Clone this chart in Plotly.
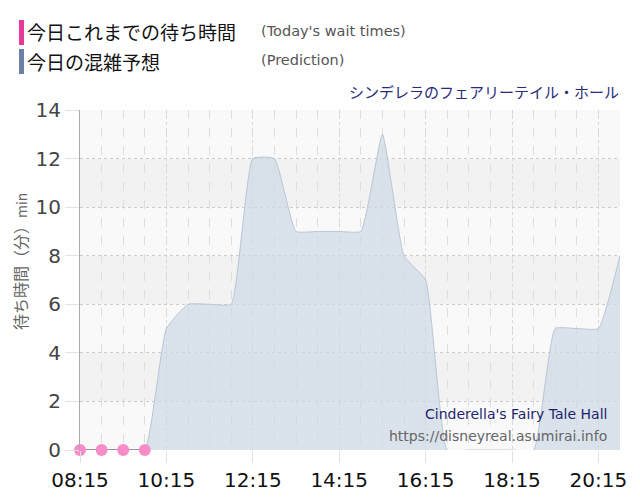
import plotly.graph_objects as go

# data (30 min steps)
day = "2024-01-01 "
pred_times = ["08:15", "08:45", "09:15", "09:45", "10:15", "10:45", "11:15", "11:45",
              "12:15", "12:45", "13:15", "13:45", "14:15", "14:45", "15:15", "15:45",
              "16:15", "16:45", "17:15", "17:45", "18:15", "18:45", "19:15", "19:45",
              "20:15", "20:45"]
pred_values = [0, 0, 0, 0, 5, 6, 6, 6, 12, 12, 9, 9, 9, 9, 13, 8, 7, 0, 0, 0, 0, 0,
               5, 5, 5, 8]
wait_times = ["08:15", "08:45", "09:15", "09:45"]
wait_values = [0, 0, 0, 0]
tick_labels = ["08:15", "10:15", "12:15", "14:15", "16:15", "18:15", "20:15"]
y_ticks = [0, 2, 4, 6, 8, 10, 12, 14]

jp = "Noto Sans CJK JP"
latin = "DejaVu Sans"

# the page body adds an 8px margin, so the figure is drawn 8px smaller
OFF = 8
W, H = 640 - OFF, 500 - OFF
# plot area in (reference) pixels
L, R, T, B = 80, 620, 110, 450


def px(x):
    return (x - L) / (R - L)


def py(y):
    return (B - y) / (B - T)


fig = go.Figure()

# prediction area
fig.add_trace(go.Scatter(
    x=[day + t for t in pred_times], y=pred_values,
    mode="lines", line=dict(color="#b8c6d4", width=1, shape="spline", smoothing=0.4),
    fill="tozeroy", fillcolor="rgba(205,218,230,0.7)", hoverinfo="skip"
))

# today's wait times
fig.add_trace(go.Scatter(
    x=[day + t for t in wait_times], y=wait_values,
    mode="lines+markers", line=dict(color="#a0909c", width=2),
    marker=dict(color="#f78dc8", size=12), cliponaxis=False, hoverinfo="skip"
))

# alternating background bands
for k in range(7):
    fig.add_shape(type="rect", xref="paper", yref="y", x0=0, x1=1,
                  y0=y_ticks[k], y1=y_ticks[k + 1], layer="below", line_width=0,
                  fillcolor="#f2f2f2" if k % 2 else "#f9f9f9")

fig.update_xaxes(
    type="date",
    range=[day + "08:15", day + "20:45"],
    tickvals=[day + t for t in tick_labels], ticktext=tick_labels,
    tickfont=dict(family=latin, size=20, color="#111"),
    showgrid=True, gridcolor="#d8d8d8", griddash="dot", gridwidth=1,
    minor=dict(dtick=30 * 60 * 1000, tick0=day + "08:15", showgrid=True,
               gridcolor="#dedede", griddash="dash", gridwidth=1),
    showline=False, zeroline=False,
    ticks="outside", ticklen=12, tickcolor="#e2e2e2",
    automargin=False,
)
fig.update_yaxes(
    range=[0, 14], tickvals=y_ticks,
    tickfont=dict(family=latin, size=20, color="#444"),
    showgrid=True, gridcolor="#cccccc", griddash="dot",
    showline=True, linecolor="#aaaaaa", linewidth=1,
    ticks="outside", ticklen=14, tickcolor="#e2e2e2",
    zeroline=False, automargin=False,
)

annotations = [
    dict(x=25, y=32, text="今日これまでの待ち時間", family=jp, size=19, color="#111"),
    dict(x=259, y=31, text="(Today's wait times)", family=latin, size=14.5, color="#555"),
    dict(x=25, y=61, text="今日の混雑予想", family=jp, size=19, color="#111"),
    dict(x=259, y=60, text="(Prediction)", family=latin, size=14.5, color="#555"),
]
for a in annotations:
    fig.add_annotation(xref="paper", yref="paper", x=px(a["x"]), y=py(a["y"]),
                       text=a["text"], font=dict(family=a["family"], size=a["size"], color=a["color"]),
                       showarrow=False, xanchor="left", yanchor="middle")

fig.add_annotation(xref="paper", yref="paper", x=px(621), y=py(91),
                   text="シンデレラのフェアリーテイル・ホール", showarrow=False,
                   xanchor="right", yanchor="middle",
                   font=dict(family=jp, size=15, color="#2a2a7a"))
fig.add_annotation(xref="paper", yref="paper", x=px(609), y=py(414),
                   text="Cinderella's Fairy Tale Hall", showarrow=False,
                   xanchor="right", yanchor="middle",
                   font=dict(family=latin, size=14, color="#1f1f6e"))
fig.add_annotation(xref="paper", yref="paper", x=px(609), y=py(436),
                   text="https://disneyreal.asumirai.info", showarrow=False,
                   xanchor="right", yanchor="middle",
                   font=dict(family=latin, size=14, color="#666"))
fig.add_annotation(xref="paper", yref="paper", x=px(20), y=py(262),
                   text="待ち時間（分）<span style='font-size:14px'>min</span>",
                   textangle=-90, showarrow=False, xanchor="center", yanchor="middle",
                   font=dict(family=jp, size=16, color="#666"))

# legend colour bars
fig.add_shape(type="rect", xref="paper", yref="paper", x0=px(19), x1=px(24),
              y0=py(45), y1=py(20), fillcolor="#e8399b", line_width=0)
fig.add_shape(type="rect", xref="paper", yref="paper", x0=px(19), x1=px(24),
              y0=py(74), y1=py(49), fillcolor="#6a80aa", line_width=0)

fig.update_layout(
    width=W, height=H,
    margin=dict(l=L - OFF, r=640 - R, t=T - OFF, b=500 - B, autoexpand=False),
    paper_bgcolor="white", plot_bgcolor="rgba(0,0,0,0)",
    showlegend=False,
)

fig.write_html("out.html")
